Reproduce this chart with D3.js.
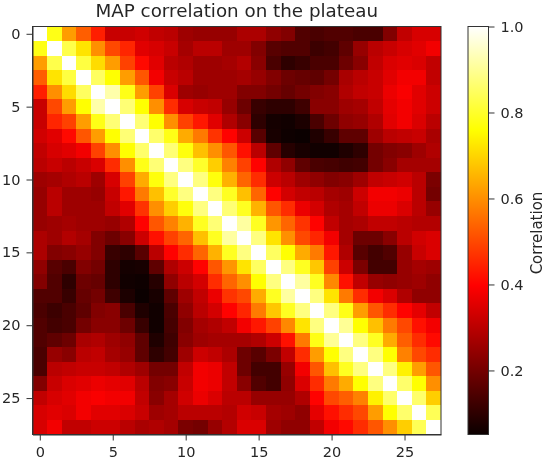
<!DOCTYPE html>
<meta charset="UTF-8">
<style>
    body { margin: 0; background: #fff; }
    svg { display: block; filter: blur(0.45px); }
    text { font-family: "DejaVu Sans", sans-serif; fill: #262626; }
</style>
<svg width="545" height="461"></svg>
<script src="https://d3js.org/d3.v7.min.js"></script>
<script>

// upper triangle of the correlation matrix, each row starts on the diagonal
var upperRows = [
    [1, .78, .62, .53, .44, .32, .32, .33, .31, .30, .26, .25, .25, .25, .28, .28, .24, .22, .15, .14, .15, .15, .14, .14, .22, .31, .34, .34],
    [1, .83, .72, .60, .50, .45, .355, .34, .32, .27, .30, .30, .26, .26, .22, .16, .15, .15, .12, .13, .17, .25, .30, .32, .34, .355, .38],
    [1, .82, .71, .62, .49, .41, .355, .30, .285, .26, .26, .27, .29, .23, .14, .10, .115, .14, .14, .19, .23, .31, .345, .355, .345, .31],
    [1, .85, .76, .62, .52, .38, .32, .30, .26, .26, .26, .27, .25, .22, .19, .18, .17, .20, .275, .30, .32, .355, .38, .38, .31],
    [1, .92, .78, .62, .49, .345, .26, .25, .26, .26, .22, .22, .20, .18, .20, .22, .23, .285, .31, .32, .37, .39, .355, .325],
    [1, .87, .76, .60, .46, .34, .32, .31, .25, .19, .115, .10, .10, .125, .23, .23, .26, .27, .31, .36, .38, .355, .325],
    [1, .87, .76, .60, .49, .43, .355, .285, .23, .10, .065, .06, .075, .14, .19, .24, .25, .285, .355, .38, .345, .30],
    [1, .86, .78, .64, .57, .47, .40, .325, .16, .07, .055, .05, .08, .115, .17, .17, .26, .30, .31, .32, .275],
    [1, .87, .77, .67, .60, .52, .42, .30, .17, .09, .07, .06, .06, .08, .10, .20, .22, .23, .26, .285],
    [1, .88, .80, .69, .58, .49, .40, .285, .24, .17, .14, .135, .125, .13, .20, .23, .27, .27, .27],
    [1, .88, .77, .65, .54, .46, .325, .30, .26, .24, .22, .23, .26, .31, .32, .33, .30, .21],
    [1, .88, .79, .67, .54, .40, .335, .31, .30, .27, .26, .325, .38, .38, .37, .30, .20],
    [1, .87, .79, .65, .52, .46, .37, .335, .285, .27, .31, .37, .37, .345, .30, .25],
    [1, .91, .79, .61, .54, .47, .40, .31, .27, .28, .31, .31, .30, .29, .29],
    [1, .88, .72, .60, .50, .45, .38, .27, .19, .19, .23, .30, .33, .345],
    [1, .85, .76, .64, .57, .43, .285, .16, .13, .15, .25, .32, .345],
    [1, .88, .79, .68, .49, .325, .21, .13, .13, .25, .27, .26],
    [1, .91, .79, .59, .42, .31, .25, .24, .25, .26, .24],
    [1, .88, .72, .57, .46, .38, .345, .285, .24, .24],
    [1, .88, .78, .62, .52, .46, .40, .36, .31],
    [1, .90, .76, .67, .57, .50, .42, .38],
    [1, .88, .79, .64, .53, .46, .41],
    [1, .88, .76, .58, .50, .46],
    [1, .88, .74, .62, .52],
    [1, .86, .76, .60],
    [1, .86, .69],
    [1, .84],
    [1]
];
var axisTicks = [0, 5, 10, 15, 20, 25];
var colorbarTicks = [0.2, 0.4, 0.6, 0.8, 1.0];
var vMin = 0.051, vMax = 1;

var svg = d3.select("svg"),
    plot = {left: 32.5, right: 441, top: 26.5, bottom: 434.5},
    bar = {left: 468, right: 488.5};

var n = upperRows.length;
var cells = [];
upperRows.forEach(function(row, i) {
    row.forEach(function(v, k) {
        var j = i + k;
        cells.push({row: i, col: j, value: v});
        if (j != i) cells.push({row: j, col: i, value: v});
    });
});

var x = d3.scaleLinear().domain([-0.5, n - 0.5]).range([plot.left, plot.right]);
var y = d3.scaleLinear().domain([-0.5, n - 0.5]).range([plot.top, plot.bottom]);

// matplotlib "hot", breakpoints are fractions of the value range
var hotStops = [0, 0.365, 0.746, 1];
var color = d3.scaleLinear()
    .domain(hotStops.map(function(t) { return vMin + t * (vMax - vMin); }))
    .range(["#0b0000", "#ff0000", "#ffff00", "#ffffff"])
    .interpolate(d3.interpolateRgb)
    .clamp(true);

svg.append("g").selectAll("rect")
    .data(cells)
    .enter().append("rect")
    .attr("x", function(d) { return x(d.col - 0.5); })
    .attr("y", function(d) { return y(d.row - 0.5); })
    .attr("width", x(1) - x(0))
    .attr("height", y(1) - y(0))
    .attr("shape-rendering", "crispEdges")
    .attr("fill", function(d) { return color(d.value); });

function styleAxis(g) {
    g.selectAll("text").attr("font-size", 14.5).attr("font-family", null);
    g.selectAll("line").attr("stroke", "#333");
    g.select(".domain").attr("stroke", "#333");
}

svg.append("g")
    .attr("transform", "translate(0," + plot.bottom + ")")
    .call(d3.axisBottom(x).tickValues(axisTicks).tickSize(6).tickPadding(6).tickSizeOuter(0))
    .call(styleAxis);

svg.append("g")
    .attr("transform", "translate(" + plot.left + ",0)")
    .call(d3.axisLeft(y).tickValues(axisTicks).tickSize(6).tickPadding(6).tickSizeOuter(0))
    .call(styleAxis);

svg.append("rect")
    .attr("x", plot.left).attr("y", plot.top)
    .attr("width", plot.right - plot.left).attr("height", plot.bottom - plot.top)
    .attr("fill", "none").attr("stroke", "#333");

svg.append("text")
    .attr("x", (plot.left + plot.right) / 2)
    .attr("y", 17)
    .attr("text-anchor", "middle")
    .attr("font-size", 18.3)
    .text("MAP correlation on the plateau");

// colorbar
var barScale = d3.scaleLinear().domain([vMin, vMax]).range([plot.bottom, plot.top]);
var defs = svg.append("defs");
var grad = defs.append("linearGradient")
    .attr("id", "hot").attr("x1", 0).attr("y1", 1).attr("x2", 0).attr("y2", 0);
grad.selectAll("stop")
    .data(hotStops)
    .enter().append("stop")
    .attr("offset", function(t) { return t; })
    .attr("stop-color", function(t) { return color(vMin + t * (vMax - vMin)); });

svg.append("rect")
    .attr("x", bar.left).attr("y", plot.top)
    .attr("width", bar.right - bar.left).attr("height", plot.bottom - plot.top)
    .attr("fill", "url(#hot)").attr("stroke", "#333");

svg.append("g")
    .attr("transform", "translate(" + bar.right + ",0)")
    .call(d3.axisRight(barScale).tickValues(colorbarTicks).tickFormat(d3.format(".1f")).tickSize(6).tickPadding(6).tickSizeOuter(0))
    .call(styleAxis)
    .select(".domain").remove();

svg.append("text")
    .attr("transform", "translate(541.5,233) rotate(-90)")
    .attr("text-anchor", "middle")
    .attr("font-size", 15)
    .text("Correlation");

</script>
